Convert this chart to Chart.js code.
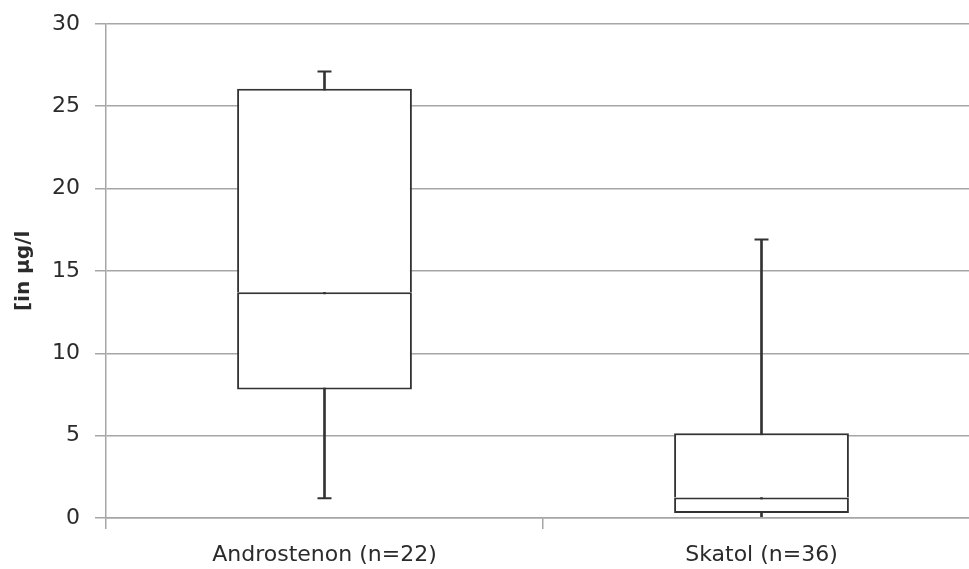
<!DOCTYPE html>
<html>
<head>
<meta charset="utf-8">
<script src="https://cdn.jsdelivr.net/npm/chart.js@4"></script>
<style>
  html, body { margin: 0; padding: 0; background: #fff; overflow: hidden; }
  #wrap { width: 989px; height: 569px; }
</style>
</head>
<body>
<div id="wrap"><canvas id="box-chart"></canvas></div>
<script>
// values, in µg/l
const groups = ['Androstenon (n=22)', 'Skatol (n=36)'];
const minVals = [1.2, 0];
const q1Vals = [7.8, 0.3];
const medianVals = [13.7, 1.25];
const q3Vals = [26.05, 5.15];
const maxVals = [27.1, 16.9];
const yTicks = [0, 5, 10, 15, 20, 25, 30];

const boxColor = '#333333';
const gridColor = '#a6a6a6';
const textColor = '#2b2b2b';

const lowerBox = groups.map((g, i) => [q1Vals[i], medianVals[i]]);
const upperBox = groups.map((g, i) => [medianVals[i], q3Vals[i]]);
const whiskers = groups.map((g, i) => [minVals[i], maxVals[i]]);

const ctx = document.getElementById('box-chart').getContext('2d');
const myChart = new Chart(ctx, {
    type: 'bar',
    data: {
        labels: groups,
        datasets: [{
            label: 'whisker',
            data: whiskers,
            backgroundColor: boxColor,
            barThickness: 2,
            grouped: false,
            order: 2
        }, {
            label: 'q1-median',
            data: lowerBox,
            backgroundColor: '#ffffff',
            borderColor: boxColor,
            borderWidth: 2,
            borderSkipped: false,
            grouped: false,
            categoryPercentage: 1,
            barPercentage: 0.4,
            order: 1
        }, {
            label: 'median-q3',
            data: upperBox,
            backgroundColor: '#ffffff',
            borderColor: boxColor,
            borderWidth: 2,
            borderSkipped: 'start', // median edge comes from the lower box
            grouped: false,
            categoryPercentage: 1,
            barPercentage: 0.4,
            order: 1
        }, {
            type: 'line',
            label: 'max',
            data: maxVals,
            showLine: false,
            pointStyle: 'line',
            pointRadius: 7,
            borderColor: boxColor,
            borderWidth: 2,
            order: 0
        }, {
            type: 'line',
            label: 'min',
            data: minVals,
            showLine: false,
            pointStyle: 'line',
            pointRadius: 7,
            borderColor: boxColor,
            borderWidth: 2,
            order: 0
        }]
    },
    options: {
        responsive: true,
        maintainAspectRatio: false,
        animation: false,
        layout: { padding: { top: 0, right: 0, left: 12, bottom: 0 } },
        plugins: {
            legend: { display: false },
            tooltip: { enabled: false }
        },
        scales: {
            x: {
                offset: true,
                afterFit: (scale) => { scale.height = 51; },
                grid: {
                    display: true,
                    drawOnChartArea: false,
                    offset: true,
                    color: gridColor,
                    lineWidth: 1.5,
                    tickLength: 11
                },
                border: { color: gridColor, width: 1.5, z: 1 },
                ticks: {
                    color: textColor,
                    padding: 13,
                    font: { family: 'DejaVu Sans', size: 22 }
                }
            },
            y: {
                min: 0,
                max: 30,
                afterBuildTicks: (scale) => {
                    scale.ticks = yTicks.map(v => ({ value: v }));
                },
                afterFit: (scale) => { scale.width = 94; },
                grid: {
                    color: gridColor,
                    lineWidth: 1.5,
                    tickLength: 11
                },
                border: { color: gridColor, width: 1.5 },
                ticks: {
                    color: textColor,
                    padding: 15,
                    font: { family: 'DejaVu Sans', size: 22, lineHeight: 0.8 }
                },
                title: {
                    display: true,
                    text: '[in µg/l',
                    color: textColor,
                    padding: { top: 0, bottom: 1 },
                    font: { family: 'DejaVu Sans', size: 20, weight: 'bold' }
                }
            }
        }
    }
});
</script>
</body>
</html>
